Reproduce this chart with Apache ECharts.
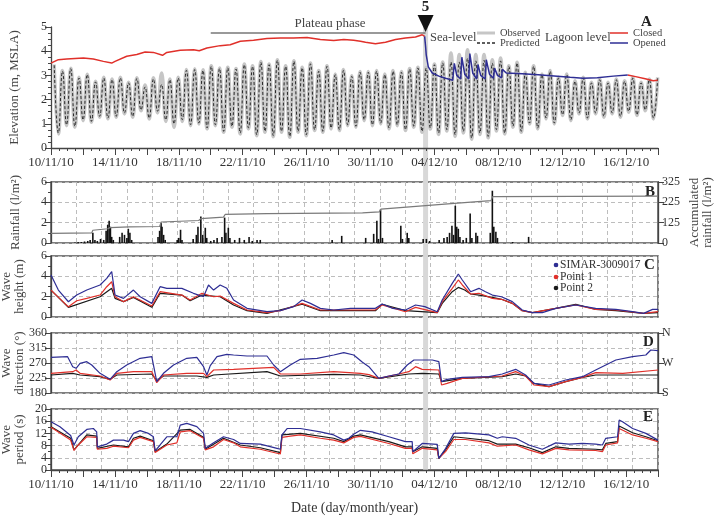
<!DOCTYPE html>
<html><head><meta charset="utf-8">
<script src="https://cdn.jsdelivr.net/npm/echarts/dist/echarts.min.js"></script>
<style>html,body{margin:0;padding:0;background:#fff}#c{width:715px;height:519px}</style>
</head><body><div id="c"></div>
<script>
// ---------- DATA (time = days since 10/11/10 00:00) ----------
const dateLabels = ['10/11/10','14/11/10','18/11/10','22/11/10','26/11/10','30/11/10','04/12/10','08/12/10','12/12/10','16/12/10'];
const rainRightLabels = ['0','125','225','325'];
const dirRightLabels = ['S','W','N'];
const tidePeriod = 0.5175;      // semi-diurnal tide (days)
const firstHighTide = 0.2;      // time of first high tide (days)
const breachTime = 23.45;       // event 5 (opening)
const plateauStart = 10.0;
const plateauLevel = 4.75;

const predHigh = [3.42,3.17,3.28,2.89,3.03,2.73,2.89,2.82,2.89,2.69,
 2.87,2.52,2.85,2.62,2.82,2.89,3.21,3.24,3.20,3.37,
 3.28,3.31,3.26,3.44,3.37,3.54,3.44,3.62,3.37,3.58,
 3.31,3.48,3.17,3.37,3.03,3.21,2.96,3.13,3.13,3.17,
 3.03,3.17,3.13,3.26,3.31,3.30,3.44,3.51,3.55,3.55,
 3.70,3.60,3.62,3.50,3.60,3.37,3.51,3.10,3.37,3.03,
 3.17,2.89,3.03,2.75,2.89,2.69,2.82,2.69,2.82,2.75,
 2.89,2.69,2.82,2.89];
const predLow = [0.62,0.96,0.90,1.17,1.10,1.31,1.24,1.31,1.45,1.31,
 1.58,1.24,1.52,1.17,1.00,1.17,0.96,1.03,0.83,0.96,
 0.69,0.90,0.62,0.83,0.55,0.69,0.51,0.69,0.48,0.69,
 0.55,0.76,0.69,0.83,0.76,0.96,0.90,1.17,0.96,1.03,
 0.83,0.96,0.76,0.90,0.69,0.83,0.62,0.76,0.55,0.69,
 0.41,0.62,0.48,0.76,0.62,0.90,0.69,1.03,0.83,1.24,
 1.03,1.38,1.17,1.45,1.24,1.45,1.31,1.45,1.31,1.52,
 1.38,1.58,1.24];
const obsHigh = [3.45,3.20,3.30,2.92,3.05,2.76,2.92,2.85,2.92,2.72,
 2.90,2.60,2.90,3.10,2.85,2.92,3.24,3.27,3.23,3.40,
 3.31,3.34,3.29,3.47,3.40,3.57,3.47,3.65,3.40,3.61,
 3.34,3.51,3.20,3.40,3.06,3.24,2.99,3.16,3.16,3.20,
 3.06,3.20,3.16,3.29,3.34,3.33,3.47,3.55,3.93,3.86,
 4.06,3.86,3.86,3.65,3.72,3.40,3.54,3.13,3.40,3.06,
 3.20,2.92,3.06,2.78,2.92,2.72,2.85,2.72,2.85,2.78,
 2.92,2.72,2.85,2.92];
const obsLow = [0.58,0.92,0.86,1.13,1.06,1.27,1.20,1.27,1.41,1.27,
 1.54,1.20,1.45,1.10,0.85,1.10,0.92,0.99,0.79,0.92,
 0.65,0.86,0.58,0.79,0.51,0.65,0.47,0.65,0.44,0.65,
 0.51,0.72,0.65,0.79,0.72,0.92,0.86,1.13,0.92,0.99,
 0.79,0.92,0.72,0.86,0.65,0.78,0.56,0.70,0.48,0.62,
 0.36,0.56,0.42,0.70,0.58,0.86,0.65,0.99,0.79,1.20,
 0.99,1.34,1.13,1.41,1.20,1.41,1.27,1.41,1.27,1.48,
 1.34,1.54,1.20];

const lagoonClosedBefore = [[0,3.51],[0.46,3.65],[0.98,3.68],[2.03,3.72],[2.65,3.68],[3.28,3.58],[3.8,3.51],[4.01,3.58],[4.74,3.79],[5.37,3.86],[5.89,3.97],[6.41,3.95],[6.98,3.83],[7.25,3.95],[8.09,4.04],[8.92,4.06],[9.28,4.02],[9.76,4.13],[10.59,4.23],[11.22,4.27],[11.85,4.41],[12.68,4.45],[13.52,4.52],[14.36,4.55],[15.19,4.55],[16.03,4.57],[16.86,4.48],[17.7,4.44],[18.33,4.48],[18.95,4.45],[19.37,4.41],[19.69,4.37],[20.31,4.31],[20.94,4.37],[21.57,4.48],[22.19,4.55],[22.82,4.59],[23.24,4.68],[23.39,4.61]];
const lagoonOpened = [[23.39,4.61],[23.45,4.2],[23.49,3.85],[23.62,3.35],[23.87,3.1],[24.28,2.97],[24.7,2.88],[25.15,2.8],[25.25,3.5],[25.4,3.0],[25.65,2.85],[25.72,3.75],[25.9,3.05],[26.15,2.85],[26.22,3.9],[26.4,3.1],[26.65,2.85],[26.73,3.45],[26.9,3.0],[27.18,2.85],[27.25,3.65],[27.45,3.05],[27.7,2.88],[27.77,3.3],[27.95,3.0],[28.2,2.9],[28.26,3.25],[28.5,3.1],[29.5,3.07],[30.5,3.03],[31.5,2.98],[32.5,2.92],[33.3,2.88],[34.2,2.9],[35.2,2.97],[36.1,3.02]];
const lagoonClosedAfter = [[36.1,3.02],[36.6,2.95],[37.2,2.86],[37.7,2.78],[37.98,2.8]];

const rainfall = [[1.5,0.05],[1.7,0.1],[1.9,0.1],[2.1,0.15],[2.3,0.2],[2.45,0.3],[2.62,1.0],[2.75,0.3],[2.9,0.2],[3.1,0.4],[3.3,0.3],[3.45,1.2],[3.55,1.8],[3.64,2.2],[3.72,1.6],[3.8,0.6],[3.9,0.3],[4.3,0.6],[4.45,1.0],[4.6,0.8],[4.75,0.5],[4.84,1.4],[4.94,1.0],[5.05,0.3],[6.7,0.6],[6.8,1.2],[6.89,2.0],[6.95,1.6],[7.05,0.8],[7.15,0.3],[7.9,0.3],[8.0,0.5],[8.11,1.3],[8.2,0.3],[8.9,0.4],[9.1,0.8],[9.2,1.6],[9.38,2.6],[9.5,0.8],[9.66,1.5],[9.75,0.5],[10.0,0.2],[10.2,0.3],[10.4,0.5],[10.7,0.6],[10.87,2.5],[10.95,1.0],[11.1,1.5],[11.2,0.5],[11.5,0.3],[11.8,0.5],[12.1,0.3],[12.4,0.6],[12.6,0.2],[12.9,0.3],[13.1,0.3],[17.6,0.3],[18.2,0.7],[19.7,0.5],[20.2,0.9],[20.4,2.2],[20.5,0.4],[20.63,3.3],[20.75,0.5],[21.9,1.7],[22.0,0.4],[22.3,1.0],[22.4,0.5],[23.3,0.4],[23.5,0.4],[23.7,0.2],[24.3,0.3],[24.6,0.5],[24.8,0.6],[24.95,1.0],[25.1,1.7],[25.2,0.8],[25.31,3.67],[25.4,1.6],[25.5,1.4],[25.6,0.6],[25.8,0.3],[26.0,0.5],[26.24,2.9],[26.35,0.5],[26.6,1.0],[26.7,0.7],[27.5,1.0],[27.63,5.14],[27.72,1.6],[27.85,1.1],[27.95,0.5],[28.9,0.1],[29.9,0.6]];
const accumRain = [[0,51],[2.55,54],[2.62,68],[3.55,76],[3.7,82],[4.9,86],[6.8,88],[6.9,112],[9.25,120],[9.38,130],[10.8,138],[10.9,152],[13.5,156],[19.5,161],[20.55,166],[20.65,180],[25.25,211],[25.33,217],[27.55,226],[27.65,247],[38,250]];

const heightSimar = [[0,4.13],[0.46,2.65],[1.09,1.5],[1.61,2.16],[2.24,2.65],[3.07,3.15],[3.49,3.8],[3.8,4.46],[4.01,2.16],[4.54,1.83],[5.16,2.65],[5.58,1.99],[6.31,1.34],[6.83,2.98],[7.25,2.82],[8.19,2.82],[8.92,2.33],[9.55,1.99],[9.86,3.15],[10.18,2.65],[10.59,3.15],[11.01,2.82],[11.43,1.67],[12.27,0.85],[13.52,0.52],[14.36,0.62],[15.19,1.02],[15.72,1.67],[16.24,1.34],[16.86,0.85],[17.7,0.69],[18.75,0.85],[19.37,0.85],[20.31,0.85],[20.73,1.28],[21.4,0.85],[22.19,0.69],[22.82,1.18],[23.4,1.02],[24.18,0.52],[24.49,1.67],[25.12,3.31],[25.5,4.23],[25.75,3.64],[26.27,2.49],[26.79,2.82],[27.2,2.49],[27.63,2.16],[28.2,1.99],[28.88,1.51],[29.5,0.69],[30.14,0.43],[30.76,0.43],[31.6,0.85],[32.85,1.18],[34.1,0.85],[35.36,0.75],[36.4,0.52],[37.1,0.36],[37.66,0.75],[38,0.75]];
const heightP1 = [[0,2.65],[1.09,1.0],[1.61,1.6],[2.24,1.83],[3.07,2.16],[3.49,2.98],[3.8,3.47],[4.01,1.99],[4.54,1.51],[5.16,1.99],[6.31,1.08],[6.83,2.49],[8.19,2.16],[8.71,1.67],[9.45,2.33],[10.18,1.99],[10.59,2.06],[11.43,1.34],[12.27,0.69],[13.52,0.43],[14.36,0.62],[15.72,1.34],[16.86,0.69],[19.37,0.69],[20.31,0.7],[20.73,1.18],[22.19,0.52],[22.82,0.95],[24.18,0.43],[24.49,1.51],[25.12,2.82],[25.5,3.64],[25.75,3.15],[26.27,2.26],[26.79,2.33],[27.63,1.83],[28.2,1.74],[28.88,1.34],[29.5,0.62],[30.14,0.43],[31.6,0.85],[32.85,1.18],[34.1,0.75],[35.36,0.69],[37.1,0.36],[38,0.52]];
const heightP2 = [[0,2.65],[1.09,0.95],[3.07,1.99],[3.8,2.82],[4.01,1.83],[4.54,1.51],[5.16,1.93],[6.31,0.95],[6.83,2.33],[8.19,2.16],[8.71,1.6],[9.45,2.16],[10.59,1.99],[11.43,1.18],[12.27,0.62],[13.52,0.36],[15.72,1.25],[16.86,0.62],[19.37,0.62],[20.31,0.62],[20.73,1.25],[22.19,0.62],[24.18,0.43],[24.49,1.34],[25.12,2.49],[25.5,2.91],[25.9,2.65],[26.27,2.26],[26.79,2.16],[27.63,1.93],[28.2,1.74],[28.88,1.34],[29.5,0.62],[30.14,0.43],[31.6,0.85],[32.85,1.25],[34.1,0.75],[35.36,0.62],[37.1,0.36],[38,0.43]];

const dirSimar = [[0,287],[1.04,289],[1.36,259],[1.57,254],[1.82,269],[2.24,274],[2.55,264],[3.07,239],[3.7,221],[4.12,244],[4.74,264],[5.58,284],[6.31,289],[6.62,214],[7.04,239],[7.67,264],[8.5,284],[9.13,287],[9.55,259],[9.76,234],[9.97,262],[10.39,289],[11.01,296],[11.43,294],[12.27,291],[13.52,291],[13.94,264],[14.36,244],[14.98,264],[15.61,281],[16.66,284],[17.7,294],[18.33,301],[18.95,294],[19.5,272],[19.9,259],[20.52,224],[21.15,231],[21.78,237],[22.3,264],[22.72,279],[23.24,279],[23.87,279],[24.28,274],[24.45,214],[24.8,221],[25.75,227],[27.42,229],[28.25,237],[29.09,251],[29.71,234],[30.24,209],[31.18,204],[32.22,219],[33.27,229],[34.1,249],[35.36,279],[36.41,289],[37.24,294],[37.55,309],[38,307]];
const dirP1 = [[0,239],[1.36,244],[1.57,249],[1.82,239],[3.07,231],[3.7,219],[4.12,239],[5.16,244],[6.31,244],[6.62,211],[7.04,234],[8.5,239],[9.55,239],[9.76,229],[10.18,249],[11.43,251],[12.68,254],[13.94,257],[14.36,237],[15.61,237],[17.7,244],[19.37,239],[19.9,235],[20.52,224],[21.78,237],[22.4,244],[22.82,259],[23.24,251],[24.28,249],[24.45,204],[24.8,209],[25.75,224],[28.25,231],[29.09,244],[29.71,231],[30.24,204],[31.18,199],[32.22,214],[33.27,227],[34.1,241],[35.8,239],[38,249]];
const dirP2 = [[0,234],[1.36,239],[1.82,234],[3.07,229],[3.7,221],[4.12,234],[6.31,237],[6.62,217],[7.04,231],[9.13,231],[9.76,227],[10.18,234],[13.52,244],[14.36,231],[17.7,236],[19.37,234],[20.52,224],[22.4,237],[23.24,239],[24.28,237],[24.45,214],[25.75,224],[28.25,229],[29.09,237],[29.71,231],[30.24,209],[31.18,199],[32.22,214],[33.27,227],[34.1,234],[35.8,234],[38,234]];

const periodSimar = [[0,15.8],[0.56,14.2],[1.23,11.3],[1.44,8.2],[1.71,10.9],[2.24,13.3],[2.65,13.6],[2.86,12.5],[2.9,7.6],[3.49,8.5],[3.91,9.8],[4.54,9.8],[4.85,9.3],[5.16,12.0],[5.58,12.9],[6.1,12.0],[6.41,10.9],[6.52,6.3],[6.83,8.2],[7.25,10.9],[7.88,10.9],[8.09,14.7],[8.5,15.3],[9.13,14.2],[9.55,12.0],[9.66,7.1],[10.18,8.9],[10.8,10.9],[11.43,10.0],[11.85,8.7],[13.1,8.5],[14.15,7.1],[14.36,6.8],[14.46,11.5],[14.78,13.6],[15.61,13.6],[16.86,12.5],[17.7,11.5],[18.33,9.8],[18.64,10.4],[18.95,11.7],[19.37,13.0],[20.1,12.5],[21.15,10.9],[22.19,9.3],[22.61,9.3],[22.65,6.0],[23.24,8.7],[24.18,8.4],[24.28,3.8],[24.7,7.0],[25.22,12.0],[25.95,12.2],[27.42,11.5],[27.94,10.4],[28.25,10.9],[29.09,10.4],[29.92,8.2],[30.76,6.8],[31.6,8.9],[32.43,8.5],[33.27,8.7],[34.1,8.5],[34.52,8.2],[34.73,10.4],[35.47,10.9],[35.57,16.4],[35.78,15.8],[36.41,13.6],[37.24,12.0],[38,9.8]];
const periodP1 = [[0,14.0],[1.23,9.8],[1.44,6.4],[1.71,8.2],[2.24,10.9],[2.86,10.7],[2.9,6.8],[3.49,7.1],[3.91,7.8],[4.85,7.3],[5.16,9.8],[5.58,10.7],[6.41,9.3],[6.52,5.7],[7.25,8.2],[7.88,8.9],[8.09,12.5],[8.71,12.9],[9.55,10.4],[9.66,6.6],[10.18,7.6],[10.8,10.0],[11.43,8.9],[11.85,7.6],[13.1,6.8],[14.15,5.5],[14.36,5.3],[14.46,10.7],[14.98,11.1],[15.61,11.5],[16.86,10.4],[17.7,9.8],[18.33,8.9],[18.95,10.7],[19.37,11.0],[21.15,8.7],[22.19,7.1],[22.61,7.1],[22.65,5.3],[23.24,7.1],[24.18,6.6],[24.28,3.8],[24.7,6.0],[25.22,10.0],[25.95,10.0],[27.42,8.9],[27.94,7.8],[29.09,8.2],[29.92,6.6],[30.76,5.3],[31.6,7.1],[32.43,6.6],[34.1,6.4],[34.52,6.0],[34.73,8.2],[35.47,8.9],[35.57,13.6],[36.41,11.5],[37.24,10.4],[38,9.3]];
const periodP2 = [[0,14.2],[1.23,10.4],[1.44,6.6],[2.24,11.5],[2.86,11.1],[2.9,7.1],[3.91,8.2],[4.85,7.6],[5.16,10.4],[5.58,11.1],[6.41,9.6],[6.52,6.0],[7.25,8.5],[8.09,13.1],[8.71,13.3],[9.55,10.7],[9.66,6.8],[10.8,10.4],[11.85,8.2],[13.1,7.3],[14.36,5.7],[14.46,11.5],[15.61,12.0],[17.7,10.4],[18.33,9.3],[18.95,11.1],[19.37,11.5],[21.15,9.3],[22.19,7.6],[22.61,7.6],[22.65,6.0],[23.24,7.6],[24.18,7.1],[24.28,3.8],[24.7,6.6],[25.22,10.9],[25.95,10.5],[27.42,9.6],[27.94,8.5],[29.09,8.5],[29.92,7.3],[30.76,5.7],[31.6,7.6],[32.43,7.1],[34.1,6.8],[34.52,6.6],[34.73,8.7],[35.47,9.3],[35.57,14.4],[36.41,12.2],[37.24,10.9],[38,9.6]];

// ---------- CHART ----------
const FONT = 'Liberation Serif';
const AX = '#444';
const C_BLUE = '#2e2e94', C_RED = '#e0302a', C_BLACK = '#1a1a1a', C_OBS = '#c6c6c6', C_PRED = '#2a2a2a';

function tide(highs, lows) {
  const pts = [];
  for (let k = 0; k < highs.length; k++) {
    pts.push([firstHighTide + k * tidePeriod, highs[k]]);
    if (k < lows.length) pts.push([firstHighTide + (k + 0.5) * tidePeriod, lows[k]]);
  }
  return pts;
}

const L = 51, R = 57;
const gb = {left:L, right:R, outerBoundsMode:'none', containLabel:false};
const grids = [
  Object.assign({top:27, height:121, show:false}, gb),
  Object.assign({top:182, height:61, show:true, borderColor:'#555', borderWidth:1.5}, gb),
  Object.assign({top:256, height:61, show:true, borderColor:'#555', borderWidth:1.5}, gb),
  Object.assign({top:333, height:60, show:true, borderColor:'#555', borderWidth:1.5}, gb),
  Object.assign({top:409, height:61, show:true, borderColor:'#555', borderWidth:1.5}, gb)
];
const dashed = {show:true, lineStyle:{color:'#bdbdbd', type:[4,3], width:1}};
const lab = {color:'#333', fontFamily:FONT, fontSize:12};

function dateAxis(gi, extra) {
  return Object.assign({
    type:'value', gridIndex:gi, min:0, max:38, interval:2,
    axisLine:{show:true, onZero:false, lineStyle:{color:AX, width:1.3}},
    axisTick:{show:true, length:7, lineStyle:{color:AX}},
    minorTick:{show:true, splitNumber:4, length:3, lineStyle:{color:AX}},
    axisLabel:Object.assign({}, lab, {fontSize:13, margin:8, hideOverlap:false,
      formatter: v => (Math.abs(v/4 - Math.round(v/4)) < 1e-6) ? (dateLabels[Math.round(v/4)] || '') : ''}),
    splitLine:{show:false}
  }, extra || {});
}
function gridAxis(gi) {
  return {type:'value', gridIndex:gi, min:0, max:38, interval:38/24,
    axisLine:{show:false}, axisTick:{show:false}, axisLabel:{show:false}, splitLine:dashed};
}
function yAx(gi, o) {
  return Object.assign({
    type:'value', gridIndex:gi,
    axisLine:{show:true, onZero:false, lineStyle:{color:AX, width:1.3}},
    axisTick:{show:true, length:6, lineStyle:{color:AX}},
    minorTick:{show:true, splitNumber:2, length:3, lineStyle:{color:AX}},
    axisLabel:Object.assign({}, lab, {margin:4}),
    splitLine:dashed,
    nameLocation:'middle', nameRotate:90, nameMoveOverlap:false,
    nameTextStyle:{fontFamily:FONT, fontSize:13, color:'#444', lineHeight:13}
  }, o);
}

const xAxis = [
  dateAxis(0),
  gridAxis(1), gridAxis(2), gridAxis(3),
  dateAxis(4, {name:'Date (day/month/year)', nameLocation:'middle', nameGap:31, nameMoveOverlap:false,
    nameTextStyle:{fontFamily:FONT, fontSize:14, color:'#333'}}),
  gridAxis(4)
];
const yAxis = [
  yAx(0, {min:0, max:5, interval:1, splitLine:{show:false}, minorTick:{show:true, splitNumber:4, length:3, lineStyle:{color:AX}},
    name:'Elevation (m, MSLA)', nameGap:30}),
  yAx(1, {min:0, max:6, interval:2, name:'Rainfall (l/m²)', nameGap:29}),
  yAx(1, {min:0, max:325, interval:325/3, position:'right', splitLine:{show:false}, minorTick:{show:false},
    axisLabel:Object.assign({}, lab, {margin:4, formatter: v => rainRightLabels[Math.round(v/(325/3))]}),
    name:'Accumulated\nrainfall (l/m²)', nameGap:30}),
  yAx(2, {min:0, max:6, interval:2, name:'Wave\nheight (m)', nameGap:25}),
  yAx(3, {min:180, max:360, interval:45, minorTick:{show:false}, name:'Wave\ndirection (°)', nameGap:25}),
  yAx(3, {min:180, max:360, interval:90, position:'right', splitLine:{show:false}, minorTick:{show:false},
    axisLabel:Object.assign({}, lab, {margin:4, formatter: v => dirRightLabels[Math.round((v-180)/90)]})}),
  yAx(4, {min:0, max:20, interval:4, name:'Wave\nperiod (s)', nameGap:25})
];

function line(name, xi, yi, data, color, width, extra) {
  return Object.assign({name, type:'line', xAxisIndex:xi, yAxisIndex:yi, data, symbol:'none',
    lineStyle:{color, width}, itemStyle:{color}, animation:false}, extra || {});
}

const series = [
  line('Observed', 0, 0, tide(obsHigh, obsLow), C_OBS, 3.5, {smooth:true, smoothMonotone:'x', z:2}),
  line('Predicted', 0, 0, tide(predHigh, predLow), C_PRED, 1, {smooth:true, smoothMonotone:'x', z:3, lineStyle:{color:C_PRED, width:1, type:[3,2]}}),
  line('Closed', 0, 0, lagoonClosedBefore, C_RED, 1.5, {z:4}),
  line('Closed', 0, 0, lagoonClosedAfter, C_RED, 1.5, {z:4}),
  line('Opened', 0, 0, lagoonOpened, C_BLUE, 1.5, {z:4}),
  {name:'Rainfall', type:'bar', xAxisIndex:1, yAxisIndex:1, data:rainfall, barWidth:1.6, itemStyle:{color:'#111'}, animation:false},
  line('Accumulated', 1, 2, accumRain, '#7a7a7a', 1.2),
  line('Point 2', 2, 3, heightP2, C_BLACK, 1.2),
  line('Point 1', 2, 3, heightP1, C_RED, 1.2),
  line('SIMAR-3009017', 2, 3, heightSimar, C_BLUE, 1.2),
  line('Point 2', 3, 4, dirP2, C_BLACK, 1.2),
  line('Point 1', 3, 4, dirP1, C_RED, 1.2),
  line('SIMAR-3009017', 3, 4, dirSimar, C_BLUE, 1.2),
  line('Point 2', 4, 6, periodP2, C_BLACK, 1.2),
  line('Point 1', 4, 6, periodP1, C_RED, 1.2),
  line('SIMAR-3009017', 4, 6, periodSimar, C_BLUE, 1.2)
];

const chart = echarts.init(document.getElementById('c'));
chart.setOption({animation:false, backgroundColor:'#fff', grid:grids, xAxis, yAxis, series});

const bx = chart.convertToPixel({xAxisIndex:0}, breachTime);
const ps = chart.convertToPixel({xAxisIndex:0}, plateauStart);
const py = chart.convertToPixel({yAxisIndex:0}, plateauLevel);
const bottomE = chart.convertToPixel({yAxisIndex:6}, 0);
const bold = {fontFamily:FONT, fontSize:15, fontWeight:'bold', fill:'#222'};
const mid = {verticalAlign:'middle', textVerticalAlign:'middle'};
const txt = Object.assign({fontFamily:FONT, fontSize:12.5, fill:'#444'}, mid);
const ltxt = Object.assign({fontFamily:FONT, fontSize:10.5, fill:'#444'}, mid);
const ctxt = Object.assign({fontFamily:FONT, fontSize:11.5, fill:'#333'}, mid);

function legLine(x, y, color, w, dash) {
  return {type:'line', shape:{x1:x, y1:y, x2:x+18, y2:y}, style:{stroke:color, lineWidth:w, lineDash:dash || null}, z:6};
}
function t(x, y, s, st) { return {type:'text', x, y, style:Object.assign({text:s}, st), z:6}; }

chart.setOption({graphic:[
  {type:'rect', shape:{x:bx-2.5, y:24, width:5, height:bottomE-24}, style:{fill:'#d8d8d8'}, z:0, silent:true},
  {type:'line', shape:{x1:ps, y1:py, x2:bx, y2:py}, style:{stroke:'#777', lineWidth:1.5}, z:5},
  {type:'text', x:ps + (bx-ps)*0.555, y:py-3, style:{text:'Plateau phase', fontFamily:FONT, fontSize:13, fill:'#444', align:'center', textAlign:'center', verticalAlign:'bottom', textVerticalAlign:'bottom'}, z:5},
  {type:'polygon', shape:{points:[[bx-8,15],[bx+8,15],[bx,32]]}, style:{fill:'#111'}, z:6},
  {type:'text', x:bx, y:15, style:Object.assign({text:'5', align:'center', textAlign:'center', verticalAlign:'bottom', textVerticalAlign:'bottom'}, bold), z:6},
  t(430, 38, 'Sea-level', txt),
  legLine(477, 33, C_OBS, 3),
  legLine(477, 43, C_PRED, 1.3, [3,2]),
  t(500, 33, 'Observed', ltxt),
  t(500, 43, 'Predicted', ltxt),
  t(545, 38, 'Lagoon level', txt),
  legLine(610, 33, C_RED, 1.5),
  legLine(610, 43, C_BLUE, 1.5),
  t(633, 33, 'Closed', ltxt),
  t(633, 43, 'Opened', ltxt),
  {type:'circle', shape:{cx:556, cy:265, r:2.3}, style:{fill:C_BLUE}, z:6},
  {type:'circle', shape:{cx:556, cy:277, r:2.3}, style:{fill:C_RED}, z:6},
  {type:'circle', shape:{cx:556, cy:288, r:2.3}, style:{fill:C_BLACK}, z:6},
  t(560, 265, 'SIMAR-3009017', ctxt),
  t(560, 277, 'Point 1', ctxt),
  t(560, 288, 'Point 2', ctxt),
  {type:'text', left:641, top:15, style:Object.assign({text:'A'}, bold)},
  {type:'text', left:645, top:185, style:Object.assign({text:'B'}, bold)},
  {type:'text', left:644, top:258, style:Object.assign({text:'C'}, bold)},
  {type:'text', left:643, top:335, style:Object.assign({text:'D'}, bold)},
  {type:'text', left:643, top:410, style:Object.assign({text:'E'}, bold)}
]});
</script></body></html>
